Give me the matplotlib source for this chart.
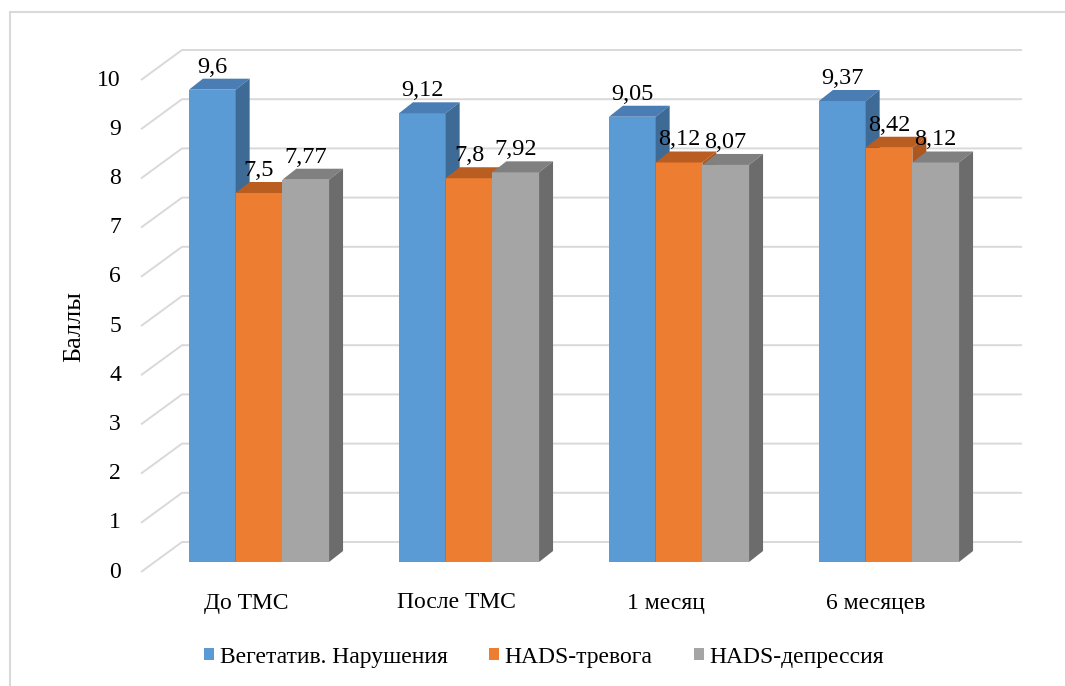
import matplotlib
matplotlib.use("Agg")
import matplotlib.pyplot as plt
from matplotlib.patches import Polygon, Rectangle, Patch

# ---- data ----
categories = ["До ТМС", "После ТМС", "1 месяц", "6 месяцев"]
series_names = ["Вегетатив. Нарушения", "HADS-тревога", "HADS-депрессия"]
vegetative = [9.6, 9.12, 9.05, 9.37]
hads_anxiety = [7.5, 7.8, 8.12, 8.42]
hads_depression = [7.77, 7.92, 8.07, 8.12]
y_ticks = list(range(0, 11))

series_values = [vegetative, hads_anxiety, hads_depression]
front_colors = ["#5b9bd5", "#ed7d31", "#a5a5a5"]
top_colors = ["#4a7db3", "#b95d21", "#808080"]
side_colors = ["#3e6a96", "#ad561d", "#6c6c6c"]

plt.rcParams["font.family"] = ["Liberation Serif", "DejaVu Serif"]
FS = 17

W, H = 1065, 686
fig = plt.figure(figsize=(W / 100, H / 100), dpi=100)

# axes placed on the plane of the bar front faces
ax_left, ax_right, ax_bottom, ax_top = 154, 994, 562, 70
ax = fig.add_axes([ax_left / W, 1 - ax_bottom / H,
                   (ax_right - ax_left) / W, (ax_bottom - ax_top) / H])
ax.set_xlim(-0.5, 3.5)
ax.set_ylim(0, 10)
ax.axis("off")

px_x = (ax_right - ax_left) / 4.0      # pixels per category unit
px_y = (ax_bottom - ax_top) / 10.0     # pixels per value unit

def dx(p):
    return p / px_x

def dy(p):
    return p / px_y

# perspective offsets (pixels): front plane, back wall, bar depth
front_off = (-13, -10)
back_off = (28, 20)
bar_depth = (14, 11)

# gridlines: diagonal side-wall segment + horizontal back-wall line
grid_color = "#d9d9d9"
for k in y_ticks:
    x0 = -0.5 + dx(front_off[0]); y0 = k + dy(front_off[1])
    x1 = -0.5 + dx(back_off[0]); y1 = k + dy(back_off[1])
    x2 = 3.5 + dx(back_off[0])
    ax.plot([x0, x1, x2], [y0, y1, y1], color=grid_color, lw=1.4,
            zorder=1, clip_on=False, solid_capstyle="butt")
    ax.text(-0.5 + dx(121 - ax_left), y0, str(k), ha="right", va="center",
            fontsize=FS, color="#000000")

# 3D-style bars
bar_w = 46.7 / px_x
offsets = [-bar_w, 0.0, bar_w]
ddx, ddy = dx(bar_depth[0]), dy(bar_depth[1])
z = 2
for i in range(len(categories)):
    for s, vals in enumerate(series_values):
        xc = i + offsets[s]
        v = vals[i]
        xl, xr = xc - bar_w / 2, xc + bar_w / 2
        ax.bar(xc, v, width=bar_w, color=front_colors[s], zorder=z,
               linewidth=0)
        ax.add_patch(Polygon([(xl, v), (xl + ddx, v + ddy), (xr + ddx, v + ddy),
                              (xr, v)], closed=True, facecolor=top_colors[s],
                             edgecolor="none", zorder=z))
        ax.add_patch(Polygon([(xr, 0), (xr, v), (xr + ddx, v + ddy),
                              (xr + ddx, ddy)], closed=True,
                             facecolor=side_colors[s], edgecolor="none",
                             zorder=z))
        label = f"{v:g}".replace(".", ",")
        ax.text(xc, v + dy(bar_depth[1] + 6), label, ha="center",
                va="baseline", fontsize=17.5, color="#000000", zorder=20)
        z += 1

# category labels on the front plane
for i, c in enumerate(categories):
    ax.text(i + dx(front_off[0]), dy(562 - 603), c, ha="center", va="center",
            fontsize=FS, color="#000000")

# axis title
fig.text(74 / W, 1 - 326 / H, "Баллы", rotation=90, ha="center", va="center",
         fontsize=19, color="#000000")

# legend
handles = [Patch(facecolor=c, edgecolor="none") for c in front_colors]
fig.legend(handles, series_names, loc="center", ncol=3,
           bbox_to_anchor=(544 / W, 1 - 657 / H), frameon=False, fontsize=FS,
           handlelength=0.45, handleheight=0.45, handletextpad=0.22,
           columnspacing=1.75, borderpad=0, borderaxespad=0)

# chart border
fig.add_artist(Rectangle((10 / W, -0.05), 1.1, 1 - 12 / H + 0.05,
                         transform=fig.transFigure, fill=False,
                         edgecolor="#d9d9d9", lw=1.5))

fig.savefig("out.png", dpi=100)
